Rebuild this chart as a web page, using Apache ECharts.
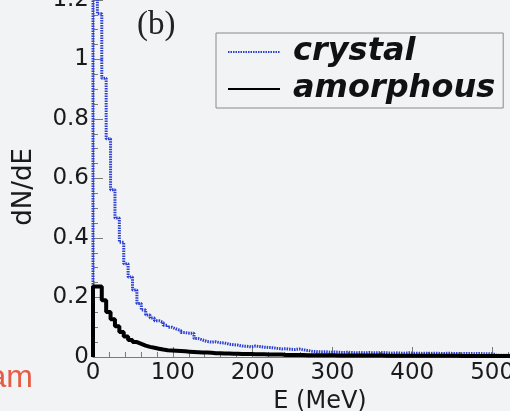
<!DOCTYPE html>
<html>
<head>
<meta charset="utf-8">
<script src="https://cdn.jsdelivr.net/npm/echarts@6/dist/echarts.min.js"></script>
<style>
html,body{margin:0;padding:0;background:#f2f3f5;}
#c{width:510px;height:411px;}
</style>
</head>
<body>
<div id="c"></div>
<script>
// ---- data ----
const binWidth = 5.5; // MeV per histogram bin, bins start at 0
const seriesNames = ['crystal', 'amorphous'];
const crystal = [
  1.40, 1.153, 0.937, 0.733, 0.562, 0.467, 0.386, 0.313, 0.269, 0.225,
  0.180, 0.158, 0.141, 0.131, 0.122, 0.116, 0.107, 0.100, 0.094, 0.089,
  0.082, 0.080, 0.080, 0.062, 0.057, 0.052, 0.050, 0.051, 0.048, 0.047,
  0.043, 0.041, 0.040, 0.037, 0.036, 0.034, 0.037, 0.035, 0.033, 0.032,
  0.031, 0.029, 0.027, 0.028, 0.026, 0.025, 0.027, 0.024, 0.022, 0.019,
  0.018, 0.017, 0.018, 0.016, 0.017, 0.016, 0.015, 0.016, 0.015, 0.014,
  0.015, 0.014, 0.015, 0.014, 0.014, 0.015, 0.014, 0.013, 0.014, 0.013,
  0.013, 0.014, 0.013, 0.013, 0.012, 0.013, 0.012, 0.013, 0.012, 0.012,
  0.013, 0.012, 0.012, 0.011, 0.012, 0.012, 0.011, 0.012, 0.011, 0.011,
  0.011, 0.006, 0.006, 0.006, 0.006, 0.006, 0.006, 0.006, 0.006, 0.006
];
const amorphous = [
  0.237, 0.237, 0.191, 0.151, 0.127, 0.103, 0.084, 0.069, 0.057, 0.050,
  0.044, 0.038, 0.034, 0.031, 0.028, 0.025, 0.023, 0.022, 0.021, 0.020,
  0.019, 0.018, 0.017, 0.016, 0.015, 0.015, 0.014, 0.013, 0.013, 0.012,
  0.012, 0.011, 0.011, 0.010, 0.010, 0.010, 0.009, 0.009, 0.009, 0.008,
  0.008, 0.008, 0.008, 0.007, 0.007, 0.007, 0.007, 0.007, 0.006, 0.006,
  0.006, 0.006, 0.006, 0.006, 0.006, 0.005, 0.005, 0.005, 0.005, 0.005,
  0.005, 0.005, 0.005, 0.005, 0.005, 0.005, 0.004, 0.004, 0.004, 0.004,
  0.004, 0.004, 0.004, 0.004, 0.004, 0.004, 0.004, 0.004, 0.004, 0.004,
  0.004, 0.004, 0.004, 0.003, 0.003, 0.003, 0.003, 0.003, 0.003, 0.003,
  0.003, 0.003, 0.003, 0.003, 0.003, 0.003, 0.003, 0.003, 0.003, 0.003
];
const xTitle = 'E (MeV)';
const yTitle = 'dN/dE';
const panelLabel = '(b)';
const sideText = 'am';

// histogram outline points: step 'end' from bin left edges
function histPoints(vals) {
  const pts = [[0, 0]];
  vals.forEach((v, i) => pts.push([i * binWidth, v]));
  const end = vals.length * binWidth;
  pts.push([end, vals[vals.length - 1]]);
  pts.push([end, 0]);
  return pts;
}

const font = 'DejaVu Sans';
const axisGray = '#7a7a7a';
const chart = echarts.init(document.getElementById('c'), null, {renderer: 'canvas'});
chart.setOption({
  backgroundColor: '#f2f3f5',
  animation: false,
  grid: {left: 93, right: -22, top: -15, bottom: 54, containLabel: false, outerBoundsMode: 'none'},
  legend: {
    left: 216, top: 33, orient: 'vertical',
    borderColor: '#8a8a8a', borderWidth: 1,
    padding: [3, 8, 3, 11], itemGap: 5,
    itemWidth: 52, itemHeight: 14,
    itemStyle: {opacity: 0},
    textStyle: {fontFamily: font, fontWeight: 'bold', fontStyle: 'italic', fontSize: 32, color: '#111', padding: [0, 0, 0, 8]},
    data: seriesNames
  },
  xAxis: {
    type: 'value', min: 0, max: 550, interval: 100,
    name: xTitle, nameLocation: 'middle', nameGap: 30,
    nameTextStyle: {fontFamily: font, fontSize: 24, color: '#1b1b1b', padding: [0, 0, 0, 15]},
    axisLine: {lineStyle: {color: axisGray, width: 1}},
    axisTick: {inside: true, length: 10, lineStyle: {color: axisGray}},
    minorTick: {show: true, splitNumber: 5, length: 5, lineStyle: {color: axisGray}},
    splitLine: {show: false},
    axisLabel: {fontFamily: font, fontSize: 23, color: '#1b1b1b', margin: 5, showMaxLabel: false}
  },
  yAxis: {
    type: 'value', min: 0, max: 1.25, interval: 0.2,
    name: yTitle, nameLocation: 'middle', nameRotate: 90, nameGap: 56,
    nameTextStyle: {fontFamily: font, fontSize: 26, color: '#1b1b1b', padding: [0, 32, 0, 0]},
    axisLine: {show: true, lineStyle: {color: axisGray, width: 1}},
    axisTick: {show: true, inside: true, length: 10, lineStyle: {color: axisGray}},
    minorTick: {show: true, splitNumber: 4, length: 5, lineStyle: {color: axisGray}},
    splitLine: {show: false},
    axisLabel: {fontFamily: font, fontSize: 23, color: '#1b1b1b', margin: 4, showMaxLabel: false,
      formatter: v => String(Math.round(v * 10) / 10)}
  },
  series: [
    {
      name: seriesNames[0], type: 'line', step: 'end', symbol: 'none',
      data: histPoints(crystal), clip: true,
      lineStyle: {color: '#2a3ed2', width: 3, type: [1.5, 1]},
      itemStyle: {color: '#2a3ed2'}, z: 2
    },
    {
      name: seriesNames[1], type: 'line', step: 'end', symbol: 'none',
      data: histPoints(amorphous), clip: true,
      lineStyle: {color: '#000', width: 4},
      itemStyle: {color: '#000'}, z: 3
    }
  ],
  graphic: [
    {type: 'text', left: 137, top: 9, style: {text: panelLabel, font: '33px "Liberation Serif"', fill: '#222'}},
    {type: 'text', x: 33, y: 378, style: {text: sideText, font: '32px "Liberation Sans"', fill: '#e65c45', align: 'right', verticalAlign: 'middle'}}
  ]
});
</script>
</body>
</html>
